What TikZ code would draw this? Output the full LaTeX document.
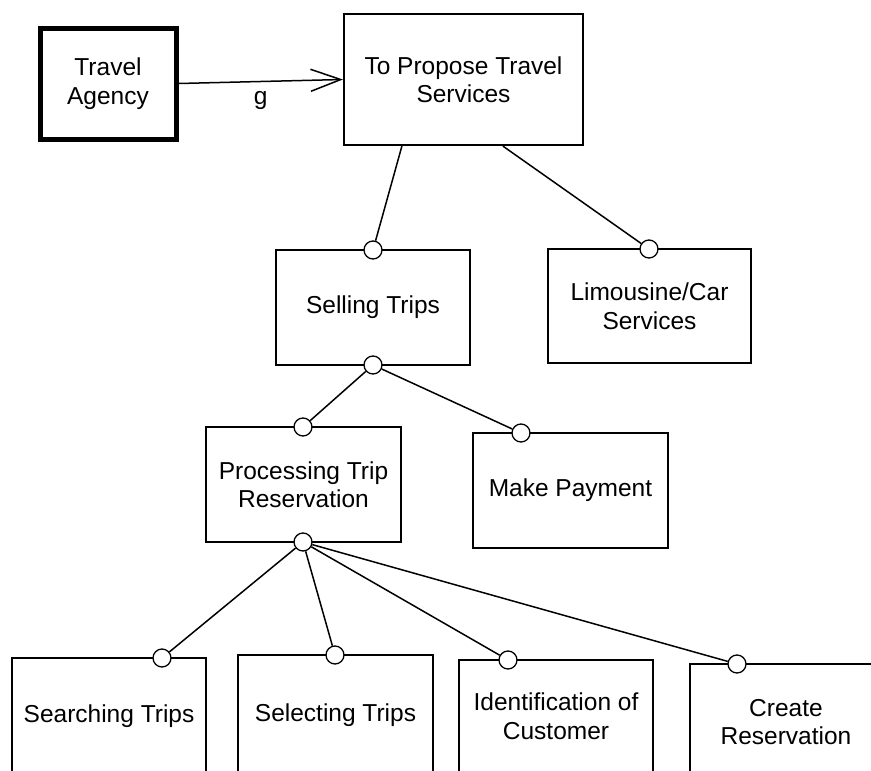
\documentclass[tikz,border=0pt]{standalone}
\usepackage{fontspec}
\setmainfont{Liberation Sans}
\usetikzlibrary{arrows.meta,calc}
\tikzset{
  box/.style={draw, rectangle, line width=2.2pt, inner sep=0pt, align=center,
    font=\fontsize{24.5}{28.5}\selectfont},
  txt/.style={inner sep=0pt, align=center, font=\fontsize{24.5}{28.5}\selectfont},
  port/.style={draw, circle, fill=white, minimum size=18pt, inner sep=0pt, line width=1.3pt},
  conn/.style={line width=1.5pt},
}
\begin{document}
\begin{tikzpicture}[x=1pt,y=-1pt]
\useasboundingbox (0,0) rectangle (871,771);
\clip (0,0) rectangle (871,771);
% boxes
\node[box, line width=5pt, minimum width=136pt, minimum height=111pt] (ta) at (108,83.5) {Travel\\Agency};
\node[box, minimum width=239pt, minimum height=131pt] (prop) at (463.5,79.5) {To Propose Travel\\Services};
\node[box, minimum width=194pt, minimum height=115pt] (sell) at (373,307.5) {Selling Trips};
\node[box, minimum width=203pt, minimum height=114pt] (limo) at (649.5,306) {Limousine/Car\\Services};
\node[box, minimum width=195pt, minimum height=115pt] (proc) at (303.5,484.5) {Processing Trip\\Reservation};
\node[box, minimum width=195pt, minimum height=115pt] (pay) at (570.5,490.5) {Make Payment};
\node[box, minimum width=194pt, minimum height=150pt] (search) at (109,733) {};
\node[box, minimum width=195pt, minimum height=150pt] (select) at (335.5,730) {};
\node[box, minimum width=194pt, minimum height=150pt] (ident) at (556,735) {};
\node[box, minimum width=210pt, minimum height=150pt] (create) at (795,739) {};
\node[txt] (searcht) at (109,716) {Searching Trips};
\node[txt] (selectt) at (335.5,715) {Selecting Trips};
\node[txt] (identt) at (556,716) {Identification of\\Customer};
\node[txt] (createt) at (786,722) {Create\\Reservation};
% ports
\node[port] (csell) at (373,250) {};
\node[port] (climo) at (649,249) {};
\node[port] (csellb) at (373,365) {};
\node[port] (cproc) at (303,427) {};
\node[port] (cpay) at (521,433) {};
\node[port] (cprocb) at (303,542) {};
\node[port] (csearch) at (162,658) {};
\node[port] (cselect) at (335,655) {};
\node[port] (cident) at (508,660) {};
\node[port] (ccreate) at (737,664) {};
% connector start points on the top box
\coordinate (p1) at ($(prop.south west)+(59,0)$);
\coordinate (p2) at ($(prop.south west)+(160,0)$);
% connectors
\draw[conn, -{Straight Barb[length=30pt,width=22pt,line width=1.5pt]}] (ta.east) -- node[pos=0.5, below=9pt, inner sep=0pt, font=\fontsize{24.5}{28.5}\selectfont] (glab) {g} (prop.west);
\draw[conn] (p1) -- (csell);
\draw[conn] (p2) -- (climo);
\draw[conn] (csellb) -- (cproc);
\draw[conn] (csellb) -- (cpay);
\draw[conn] (cprocb) -- (csearch);
\draw[conn] (cprocb) -- (cselect);
\draw[conn] (cprocb) -- (cident);
\draw[conn] (cprocb) -- (ccreate);
\end{tikzpicture}
\end{document}
